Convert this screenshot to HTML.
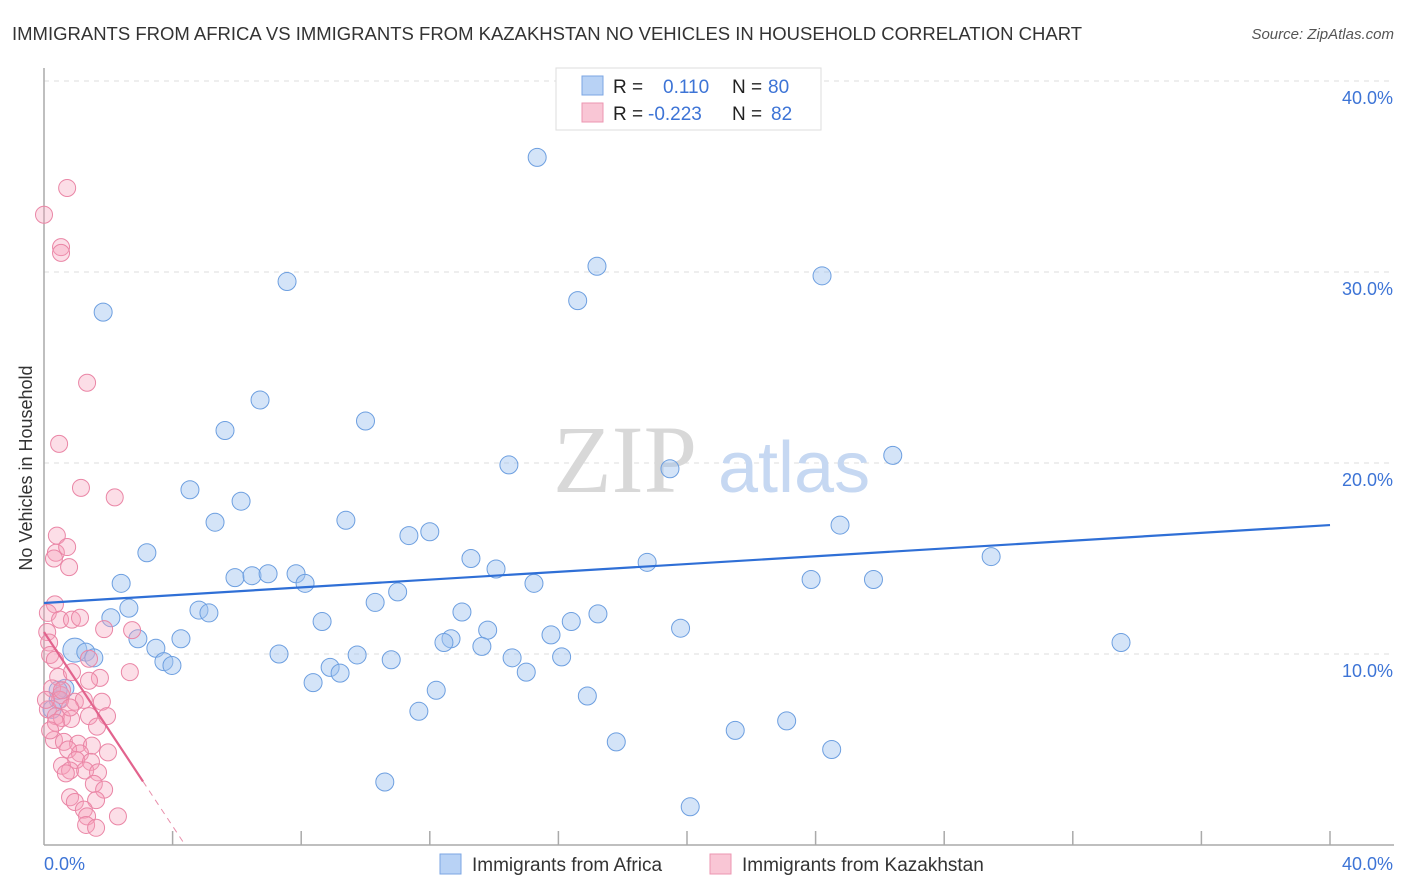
<!DOCTYPE html>
<html><head><meta charset="utf-8"><style>
body{margin:0;background:#fff;font-family:"Liberation Sans",sans-serif;}
svg{display:block}
</style></head><body>
<svg width="1406" height="892" xmlns="http://www.w3.org/2000/svg">
<text x="12" y="40" font-size="18.5" fill="#333">IMMIGRANTS FROM AFRICA VS IMMIGRANTS FROM KAZAKHSTAN NO VEHICLES IN HOUSEHOLD CORRELATION CHART</text>
<text x="1394" y="39" font-size="15" fill="#555" font-style="italic" text-anchor="end">Source: ZipAtlas.com</text>
<g id="grid"></g>
<g>
<text x="553" y="492" font-family="Liberation Serif,serif" font-size="96" fill="#d8d8d8">ZIP</text>
<text x="718" y="492" font-size="72" fill="#c6d8f2">atlas</text>
</g>
<line x1="44" y1="68" x2="44" y2="845" stroke="#aaa" stroke-width="1.5"/>
<line x1="44" y1="845" x2="1394" y2="845" stroke="#aaa" stroke-width="1.5"/>
<g id="xticks"></g>
<g id="pts"></g>
<g id="reg"></g>
<text x="20" y="456" font-size="18" fill="#333" transform="rotate(-90 32 456)" text-anchor="middle">No Vehicles in Household</text>
<text x="44" y="870" font-size="18" fill="#3d74d6">0.0%</text>
<text x="1393" y="870" font-size="18" fill="#3d74d6" text-anchor="end">40.0%</text>
<g>
<rect x="556" y="68" width="265" height="62" fill="#fff" stroke="#ddd"/>
<rect x="582" y="76" width="21" height="19" fill="#b8d2f5" stroke="#7ba6e3"/>
<rect x="582" y="103" width="21" height="19" fill="#f9c6d5" stroke="#ec96b1"/>
<text x="613" y="93" font-size="19" fill="#222">R =</text>
<text x="663" y="93" font-size="19" fill="#3d74d6">0.110</text>
<text x="732" y="93" font-size="19" fill="#222">N =</text>
<text x="768" y="93" font-size="19" fill="#3d74d6">80</text>
<text x="613" y="120" font-size="19" fill="#222">R =</text>
<text x="648" y="120" font-size="19" fill="#3d74d6">-0.223</text>
<text x="732" y="120" font-size="19" fill="#222">N =</text>
<text x="771" y="120" font-size="19" fill="#3d74d6">82</text>
</g>
<g>
<rect x="440" y="854" width="21" height="20" fill="#b8d2f5" stroke="#7ba6e3"/>
<text x="472" y="871" font-size="19" fill="#333">Immigrants from Africa</text>
<rect x="710" y="854" width="21" height="20" fill="#f9c6d5" stroke="#ec96b1"/>
<text x="742" y="871" font-size="19" fill="#333">Immigrants from Kazakhstan</text>
</g>
</svg>
<script>
const yTicks=[10,20,30,40];
const yTickLabels=["10.0%","20.0%","30.0%","40.0%"];
const xTicks=[4,8,12,16,20,24,28,32,36,40];
const africaX=[15.34,17.2,16.6,24.2,7.56,1.84,6.72,10.0,5.63,14.46,19.47,26.4,4.54,6.13,5.32,9.39,24.76,11.35,12.0,3.2,13.28,18.76,29.46,14.06,2.4,5.94,6.47,6.97,7.84,8.12,15.24,23.86,25.8,2.64,4.82,5.13,11.0,10.3,13.0,17.23,16.4,2.08,8.65,13.8,19.8,2.92,4.26,15.77,12.66,12.44,13.62,33.5,3.48,7.31,9.74,0.96,1.3,1.55,3.73,3.98,10.8,14.56,16.1,8.9,9.21,15.0,8.37,12.2,16.9,0.65,0.44,11.66,0.25,17.8,21.5,23.1,24.5,10.6,20.1,0.44];
const africaY=[36.0,30.3,28.5,29.8,29.5,27.9,23.3,22.2,21.7,19.9,19.7,20.4,18.6,18.0,16.9,17.0,16.75,16.2,16.4,15.3,15.0,14.8,15.1,14.45,13.7,14.0,14.1,14.2,14.2,13.7,13.7,13.9,13.9,12.4,12.3,12.15,13.25,12.7,12.2,12.1,11.7,11.9,11.7,11.25,11.35,10.8,10.8,11.0,10.8,10.6,10.4,10.6,10.3,10.0,9.95,10.2,10.1,9.8,9.6,9.4,9.7,9.8,9.85,9.3,9.0,9.05,8.5,8.1,7.8,8.2,7.6,7.0,7.1,5.4,6.0,6.5,5.0,3.3,2.0,8.1];
const kazX=[0.0,0.72,0.53,0.53,1.34,0.47,1.15,2.2,0.4,0.37,0.72,0.31,0.78,0.34,0.12,0.5,0.87,1.12,1.87,2.74,0.1,0.16,0.19,0.34,1.4,2.67,0.44,0.87,1.74,1.4,0.25,0.53,1.8,0.96,0.12,0.37,0.56,0.84,1.4,1.96,1.65,0.31,0.62,1.06,1.49,0.75,1.12,1.99,1.0,1.46,0.56,0.81,1.28,1.68,0.68,1.55,1.87,0.81,0.96,1.62,1.24,1.34,2.3,1.31,1.62,0.37,0.5,0.19,0.06,0.56,1.24,0.81];
const kazY=[33.0,34.4,31.3,31.0,24.2,21.0,18.7,18.2,16.2,15.3,15.6,15.0,14.55,12.6,12.15,11.8,11.8,11.9,11.3,11.25,11.15,10.6,9.95,9.7,9.75,9.05,8.8,9.05,8.75,8.6,8.2,7.85,7.5,7.5,7.1,6.75,6.65,6.6,6.75,6.75,6.2,5.5,5.4,5.3,5.2,5.0,4.8,4.85,4.45,4.35,4.15,3.9,3.9,3.8,3.75,3.2,2.9,2.5,2.25,2.35,1.85,1.5,1.5,1.05,0.9,6.4,7.6,6.0,7.6,8.1,7.6,7.2];
const africaFit=[12.67,0.102];   // intercept, slope
const kazFit=[11.15,-2.54];
const kazSolidEnd=3.08;
const NS="http://www.w3.org/2000/svg";
const sx=v=>44+v*32.15, sy=v=>845-v*19.1;
function mk(tag,attrs,parent){const e=document.createElementNS(NS,tag);for(const k in attrs)e.setAttribute(k,attrs[k]);parent.appendChild(e);return e;}
const grid=document.getElementById('grid');
yTicks.forEach((t,i)=>{
 const l=mk('line',{x1:44,x2:1394,y1:sy(t),y2:sy(t),stroke:'#ddd','stroke-dasharray':'5,5'},grid);
 
 
 const tx=mk('text',{x:1393,y:sy(t)+23,'font-size':18,fill:'#3d74d6','text-anchor':'end'},grid);
 tx.textContent=yTickLabels[i];
 
 
});
const xt=document.getElementById('xticks');
xTicks.forEach(t=>{
 const l=mk('line',{x1:sx(t),x2:sx(t),y1:831,y2:845,stroke:'#aaa','stroke-width':1.5},xt);
 
 
});
const pts=document.getElementById('pts');
africaX.forEach((x,i)=>{
 const big=(i===55)?12:9;
 const c=mk('circle',{cx:sx(x),cy:sy(africaY[i]),r:big,fill:'rgba(160,196,240,0.45)',stroke:'#6d9fe0','stroke-width':1},pts);
 
 
});
kazX.forEach((x,i)=>{
 const c=mk('circle',{cx:sx(x),cy:sy(kazY[i]),r:8.5,fill:'rgba(245,160,185,0.35)',stroke:'#ea86a6','stroke-width':1},pts);
 
 
});
const reg=document.getElementById('reg');
const l1=mk('line',{x1:sx(0),y1:sy(africaFit[0]),x2:sx(40),y2:sy(africaFit[0]+africaFit[1]*40),stroke:'#2f6fd6','stroke-width':2.2},reg);


const l2=mk('line',{x1:sx(0),y1:sy(kazFit[0]),x2:sx(kazSolidEnd),y2:sy(kazFit[0]+kazFit[1]*kazSolidEnd),stroke:'#e2638d','stroke-width':2.2},reg);


const x0=-kazFit[0]/kazFit[1];
const l3=mk('line',{x1:sx(kazSolidEnd),y1:sy(kazFit[0]+kazFit[1]*kazSolidEnd),x2:sx(x0),y2:sy(0),stroke:'#e88fab','stroke-width':1,'stroke-dasharray':'6,5'},reg);


</script>
</body></html>
